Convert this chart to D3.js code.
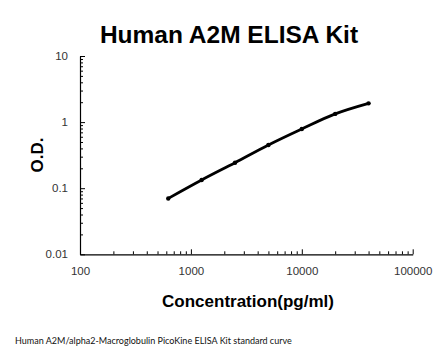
<!DOCTYPE html>
<html><head><meta charset="utf-8">
<script src="https://cdn.jsdelivr.net/npm/d3@7"></script>
<style>body{margin:0;background:#fff}</style>
</head><body>
<svg id="c" width="446" height="356"></svg>
<script>
const concentration = [625, 1250, 2500, 5000, 10000, 20000, 40000];
const od = [0.070, 0.133, 0.243, 0.451, 0.787, 1.33, 1.92];
const xTicks = [100, 1000, 10000, 100000];
const yTicks = [0.01, 0.1, 1, 10];
const title = "Human A2M ELISA Kit";
const xLabel = "Concentration(pg/ml)";
const yLabel = "O.D.";
const caption = "Human A2M/alpha2-Macroglobulin PicoKine ELISA Kit standard curve";

const svg = d3.select("#c");
const x = d3.scaleLog().domain([100, 100000]).range([80, 412.7]);
const y = d3.scaleLog().domain([0.01, 10]).range([254.3, 56]);

function minors(lo, hi){ const r=[]; for(let d=lo; d<hi; d*=10) for(let k=2;k<=9;k++) r.push(d*k); return r; }

// minor ticks
svg.append("g").attr("transform","translate(0,254.3)")
  .call(d3.axisBottom(x).tickValues(minors(100,100000)).tickSize(-3).tickFormat(""))
  .call(g=>g.select(".domain").remove())
  .selectAll("line").attr("stroke","#000");
svg.append("g").attr("transform","translate(80,0)")
  .call(d3.axisLeft(y).tickValues(minors(0.01,10)).tickSize(-3).tickFormat(""))
  .call(g=>g.select(".domain").remove())
  .selectAll("line").attr("stroke","#000");

// major axes
const xa = svg.append("g").attr("transform","translate(0,254.3)")
  .call(d3.axisBottom(x).tickValues(xTicks).tickSize(-5).tickSizeOuter(0).tickPadding(13).tickFormat(d3.format("d")));
const ya = svg.append("g").attr("transform","translate(80,0)")
  .call(d3.axisLeft(y).tickValues(yTicks).tickSize(-5).tickSizeOuter(0).tickPadding(12).tickFormat(d=>String(d)));
[xa,ya].forEach(a=>{
  a.select(".domain").attr("stroke","#000").attr("stroke-width",1.2);
  a.selectAll("line").attr("stroke","#000");
  a.selectAll("text").attr("font-family","Liberation Sans, Arial, sans-serif").attr("font-size",11.5).attr("fill","#333");
});

// curve
const pts = concentration.map((c,i)=>[x(c), y(od[i])]);
svg.append("path").attr("d", d3.line().curve(d3.curveMonotoneX)(pts))
  .attr("fill","none").attr("stroke","#000").attr("stroke-width",2.8).attr("stroke-linecap","round");
svg.selectAll("circle.p").data(pts).join("circle").attr("class","p")
  .attr("cx",d=>d[0]).attr("cy",d=>d[1]).attr("r",2.2).attr("fill","#000");

// texts
svg.append("text").attr("x",229).attr("y",43).attr("text-anchor","middle")
  .attr("font-family","Liberation Sans, Arial, sans-serif").attr("font-weight","bold").attr("font-size",24.5).text(title);
svg.append("text").attr("x",248).attr("y",307).attr("text-anchor","middle")
  .attr("font-family","Liberation Sans, Arial, sans-serif").attr("font-weight","bold").attr("font-size",17).text(xLabel);
svg.append("text").attr("transform","translate(43,155) rotate(-90)").attr("text-anchor","middle")
  .attr("font-family","Liberation Sans, Arial, sans-serif").attr("font-weight","bold").attr("font-size",17).text(yLabel);
svg.append("text").attr("x",15).attr("y",344)
  .attr("font-family","Lato, 'Open Sans', sans-serif").attr("font-size",9).attr("fill","#111").text(caption);
</script>
</body></html>
